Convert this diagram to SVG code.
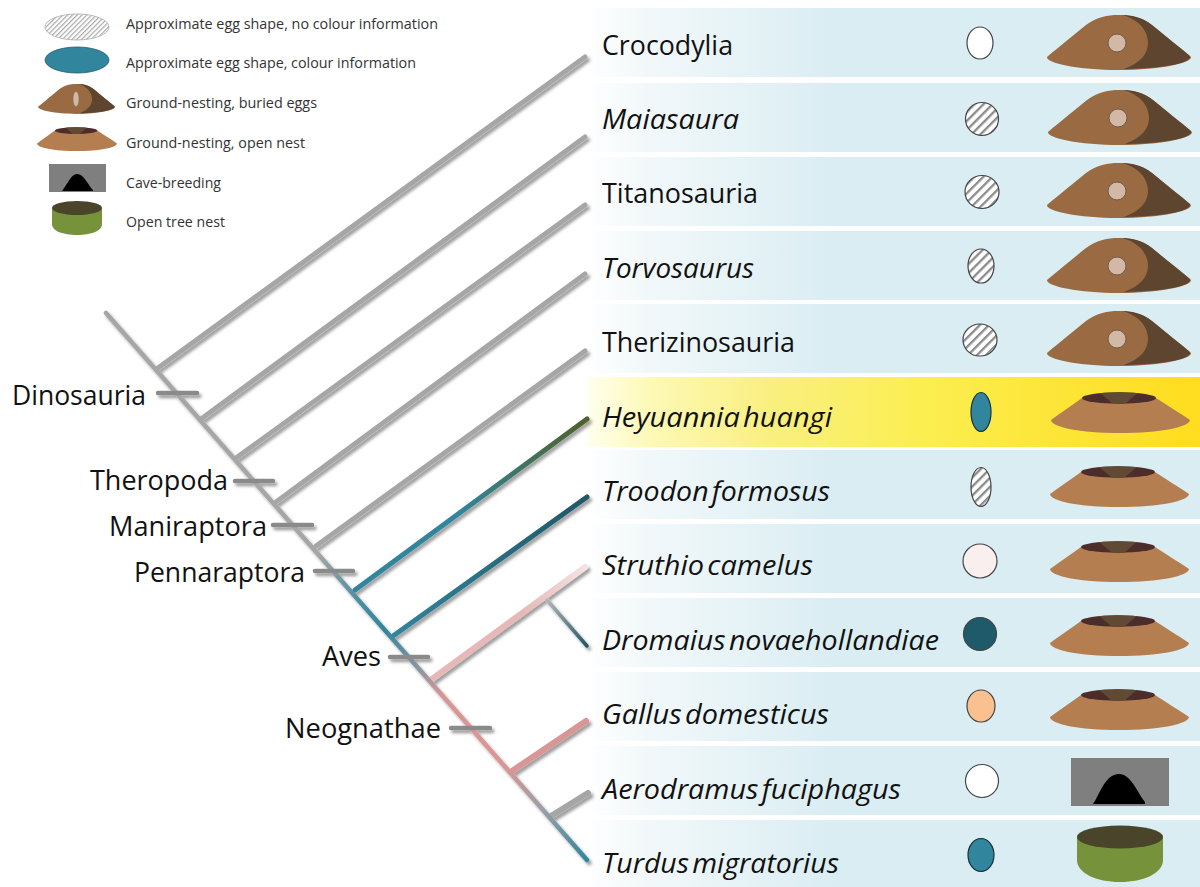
<svg xmlns="http://www.w3.org/2000/svg" width="1200" height="887" viewBox="0 0 1200 887">
<style>
text{font-family:"Open Sans","Noto Sans","Liberation Sans",sans-serif;fill:#111}
.row{fill:url(#rowBlue)}
.lab{font-size:27px}
.it{font-style:italic;word-spacing:-4px}
.leg{font-size:14px;fill:#333}
.clade{font-size:27px}
.br{fill:none;stroke-width:5;stroke-linecap:round}
.gray{stroke:#a6a6a6}
.tick{fill:none;stroke:#8a8a8a;stroke-width:4.500;stroke-linecap:round}
.egg{stroke:#444;stroke-width:1.2}
.hatch{fill:url(#hatch)}
.teal{fill:#31859c;stroke:#17313a;stroke-width:1.2}
</style>
<defs>
<linearGradient id="rowBlue" x1="0" x2="1" y1="0" y2="0"><stop offset="0" stop-color="#fff"/><stop offset=".1" stop-color="#f2f8fa"/><stop offset=".4" stop-color="#daedf3"/><stop offset="1" stop-color="#daedf3"/></linearGradient>
<linearGradient id="rowYellow" x1="0" x2="1" y1="0" y2="0"><stop offset="0" stop-color="#fffff0"/><stop offset=".1" stop-color="#fdf9b8"/><stop offset=".3" stop-color="#f9ef80"/><stop offset=".55" stop-color="#fbee50"/><stop offset="1" stop-color="#ffdc1e"/></linearGradient>
<pattern id="hatch" width="6.400" height="6.400" patternUnits="userSpaceOnUse" patternTransform="rotate(-45)"><rect width="6.400" height="6.400" fill="#fff"/><rect width="6.400" height="2.300" fill="#8c8c8c"/></pattern>
<pattern id="hatchFine" width="3.400" height="3.400" patternUnits="userSpaceOnUse" patternTransform="rotate(-45)"><rect width="3.400" height="3.400" fill="#fff"/><rect width="3.400" height="1.200" fill="#aaa"/></pattern>
<clipPath id="holeClip"><ellipse cx="1119" cy="398" rx="37" ry="5.800"/></clipPath>
<filter id="sh" x="-10%" y="-10%" width="120%" height="120%"><feDropShadow dx="2.400" dy="3" stdDeviation="1.500" flood-color="#000" flood-opacity=".38"/></filter>
<linearGradient id="gMain" gradientUnits="userSpaceOnUse" x1="106" y1="313" x2="587" y2="860">
<stop offset="0" stop-color="#a6a6a6"/><stop offset=".44" stop-color="#a6a6a6"/><stop offset=".52" stop-color="#4f8fa3"/><stop offset=".58" stop-color="#31859c"/><stop offset=".65" stop-color="#8c95a2"/><stop offset=".7" stop-color="#d99694"/><stop offset=".83" stop-color="#d99694"/><stop offset=".91" stop-color="#9a9fa5"/><stop offset="1" stop-color="#31859c"/></linearGradient>
<linearGradient id="gHey" gradientUnits="userSpaceOnUse" x1="355" y1="590" x2="587" y2="419"><stop offset="0" stop-color="#31859c"/><stop offset=".45" stop-color="#31859c"/><stop offset="1" stop-color="#4f6228"/></linearGradient>
<linearGradient id="gTro" gradientUnits="userSpaceOnUse" x1="393" y1="636" x2="587" y2="497"><stop offset="0" stop-color="#31859c"/><stop offset="1" stop-color="#205867"/></linearGradient>
<linearGradient id="gStr" gradientUnits="userSpaceOnUse" x1="432" y1="679" x2="585" y2="567"><stop offset="0" stop-color="#e6b9b8"/><stop offset=".6" stop-color="#e6b9b8"/><stop offset="1" stop-color="#f5e3e2"/></linearGradient>
<linearGradient id="gDro" gradientUnits="userSpaceOnUse" x1="547" y1="600" x2="587" y2="646"><stop offset="0" stop-color="#b5b5b5"/><stop offset="1" stop-color="#205867"/></linearGradient>
<g id="buriedBase">
<path d="M1047 57C1060 46 1075 34 1086 25C1097 17 1108 15 1118 15C1130 15 1142 17 1152 25C1165 36 1180 47 1191 57C1192 63 1160 70 1119 70C1078 70 1046 63 1047 57Z" fill="#9a6a42"/>
<path d="M1122 15C1130 15 1142 17 1152 25C1165 36 1178 46 1190 56C1192 62 1170 68 1124 69C1140 63 1148 54 1148 43C1148 30 1138 19 1122 15Z" fill="#5e452f"/>
</g>
<g id="buried">
<use href="#buriedBase"/>
<circle cx="1117" cy="43" r="9" fill="#d2b8a5" stroke="#6e5c4e" stroke-width="1"/>
</g>
<g id="open">
<path d="M1082 398L1156 398C1168 406 1180 413 1190 420C1190 427 1160 433 1120 433C1080 433 1051 427 1051 420C1061 413 1072 405 1082 398Z" fill="#b47e50"/>
<ellipse cx="1119" cy="398" rx="37" ry="5.800" fill="#4d2c2c"/>
<path d="M1098 391L1140 391L1125 404L1113 404Z" fill="#604a33" clip-path="url(#holeClip)"/>
</g>
</defs>
<rect width="1200" height="887" fill="#fff"/>
<g id="rows">
<rect class="row" x="586" y="8" width="614" height="69"/>
<rect class="row" x="586" y="83" width="614" height="69"/>
<rect class="row" x="586" y="157" width="614" height="69"/>
<rect class="row" x="586" y="231" width="614" height="69"/>
<rect class="row" x="586" y="304" width="614" height="69"/>
<rect x="586" y="377" width="614" height="70" fill="url(#rowYellow)"/>
<rect class="row" x="586" y="450" width="614" height="69"/>
<rect class="row" x="586" y="524" width="614" height="69"/>
<rect class="row" x="586" y="598" width="614" height="69"/>
<rect class="row" x="586" y="672" width="614" height="69"/>
<rect class="row" x="586" y="746" width="614" height="69"/>
<rect class="row" x="586" y="820" width="614" height="67"/>
</g>
<g id="connectors" filter="url(#sh)">
<line class="br gray" x1="158" y1="368" x2="585" y2="57"/>
<line class="br gray" x1="201" y1="419" x2="585" y2="137"/>
<line class="br gray" x1="236" y1="458" x2="585" y2="205"/>
<line class="br gray" x1="276" y1="502" x2="585" y2="274"/>
<line class="br gray" x1="316" y1="546" x2="585" y2="351"/>
<line class="br" stroke="url(#gHey)" x1="355" y1="590" x2="587" y2="419"/>
<line class="br" stroke="url(#gTro)" x1="393" y1="636" x2="587" y2="497"/>
<line class="br" stroke="url(#gStr)" style="stroke-width:6" x1="432" y1="679" x2="585" y2="567"/>
<line class="br" stroke="url(#gDro)" style="stroke-width:3.500" x1="547" y1="600" x2="587" y2="646"/>
<line class="br" stroke="#d99694" style="stroke-width:6" x1="512" y1="771" x2="586" y2="721"/>
<line class="br gray" style="stroke-width:6" x1="551" y1="816" x2="588" y2="793"/>
<line class="br" stroke="url(#gMain)" style="stroke-width:4.500" x1="106" y1="313" x2="587" y2="860"/>
<line class="tick" x1="158" y1="393" x2="197" y2="393"/>
<line class="tick" x1="235" y1="481" x2="273" y2="481"/>
<line class="tick" x1="273" y1="525" x2="312" y2="525"/>
<line class="tick" x1="315" y1="571" x2="353" y2="571"/>
<line class="tick" x1="390" y1="657" x2="428" y2="657"/>
<line class="tick" x1="451" y1="728" x2="490" y2="728"/>
</g>
<g id="clades">
<text class="clade" x="12" y="405" textLength="134" lengthAdjust="spacingAndGlyphs">Dinosauria</text>
<text class="clade" x="90" y="490" textLength="138" lengthAdjust="spacingAndGlyphs">Theropoda</text>
<text class="clade" x="109" y="536" textLength="158" lengthAdjust="spacingAndGlyphs">Maniraptora</text>
<text class="clade" x="134" y="582" textLength="171" lengthAdjust="spacingAndGlyphs">Pennaraptora</text>
<text class="clade" x="322" y="666" textLength="59" lengthAdjust="spacingAndGlyphs">Aves</text>
<text class="clade" x="285" y="738" textLength="156" lengthAdjust="spacingAndGlyphs">Neognathae</text>
</g>
<g id="taxon-crocodylia"><text class="lab" x="602" y="55" textLength="131" lengthAdjust="spacingAndGlyphs">Crocodylia</text><ellipse class="egg" cx="980" cy="43" rx="13" ry="16" fill="#fff"/><use href="#buried"/></g>
<g id="taxon-maiasaura"><text class="lab it" x="602" y="129" textLength="137" lengthAdjust="spacingAndGlyphs">Maiasaura</text><ellipse class="egg hatch" cx="982" cy="119" rx="16.500" ry="16.500"/><use href="#buried" x="1" y="75"/></g>
<g id="taxon-titanosauria"><text class="lab" x="602" y="203" textLength="156" lengthAdjust="spacingAndGlyphs">Titanosauria</text><ellipse class="egg hatch" cx="982" cy="192" rx="17" ry="16.500"/><use href="#buried" x="0" y="148"/></g>
<g id="taxon-torvosaurus"><text class="lab it" x="602" y="278" textLength="152" lengthAdjust="spacingAndGlyphs">Torvosaurus</text><ellipse class="egg hatch" cx="981" cy="266" rx="13" ry="17"/><use href="#buried" x="0" y="223"/></g>
<g id="taxon-therizinosauria"><text class="lab" x="602" y="352" textLength="193" lengthAdjust="spacingAndGlyphs">Therizinosauria</text><ellipse class="egg hatch" cx="980" cy="340" rx="17" ry="16"/><use href="#buried" x="0" y="296"/></g>
<g id="taxon-heyuannia"><text class="lab it" x="602" y="427" textLength="230" lengthAdjust="spacingAndGlyphs">Heyuannia huangi</text><ellipse class="teal" cx="981" cy="412" rx="10" ry="19.500"/><use href="#open"/></g>
<g id="taxon-troodon"><text class="lab it" x="602" y="501" textLength="228" lengthAdjust="spacingAndGlyphs">Troodon formosus</text><ellipse class="egg hatch" cx="981" cy="487" rx="10" ry="19.500"/><use href="#open" x="-1" y="74"/></g>
<g id="taxon-struthio"><text class="lab it" x="602" y="575" textLength="211" lengthAdjust="spacingAndGlyphs">Struthio camelus</text><ellipse class="egg" cx="980" cy="561" rx="17" ry="17" fill="#faefef"/><use href="#open" x="-1" y="149"/></g>
<g id="taxon-dromaius"><text class="lab it" x="602" y="650" textLength="337" lengthAdjust="spacingAndGlyphs">Dromaius novaehollandiae</text><ellipse class="egg" cx="980" cy="634" rx="16.500" ry="16.500" fill="#1f5a6b"/><use href="#open" x="-1" y="223"/></g>
<g id="taxon-gallus"><text class="lab it" x="602" y="724" textLength="227" lengthAdjust="spacingAndGlyphs">Gallus domesticus</text><ellipse class="egg" cx="981" cy="706" rx="14" ry="16" fill="#fac090"/><use href="#open" x="-1" y="297"/></g>
<g id="taxon-aerodramus"><text class="lab it" x="602" y="799" textLength="299" lengthAdjust="spacingAndGlyphs">Aerodramus fuciphagus</text><ellipse class="egg" cx="982" cy="781" rx="16.500" ry="16.500" fill="#fff"/>
<rect x="1071" y="758" width="98" height="48" fill="#7f7f7f"/><path d="M1093 804C1099 796 1105 774 1119 774C1131 774 1137 792 1145 802L1145 804Z" fill="#000"/></g>
<g id="taxon-turdus"><text class="lab it" x="602" y="873" textLength="237" lengthAdjust="spacingAndGlyphs">Turdus migratorius</text><ellipse class="teal" cx="981" cy="855" rx="13" ry="16.500"/>
<path d="M1077 837V860C1077 873 1096 882 1120 882C1144 882 1163 873 1163 860V837Z" fill="#76933c"/><ellipse cx="1120" cy="837" rx="43" ry="11.500" fill="#4a452a"/></g>
<g id="legend">
<ellipse cx="77" cy="27" rx="32" ry="13" fill="url(#hatchFine)" stroke="#aaa" stroke-width=".8"/>
<ellipse cx="77" cy="60" rx="32" ry="13" fill="#31859c" stroke="#215a6a" stroke-width=".8"/>
<use href="#buriedBase" transform="translate(-522.100 75.800) scale(.535 .545)"/>
<ellipse cx="76" cy="99" rx="3" ry="7.500" fill="#d2b8a5" stroke="#7a6a5a" stroke-width=".5"/>
<use href="#open" transform="translate(-567.300 -102.300) scale(.575 .585)"/>
<text class="leg" x="126" y="29" textLength="312" lengthAdjust="spacingAndGlyphs">Approximate egg shape, no colour information</text>
<text class="leg" x="126" y="68" textLength="290" lengthAdjust="spacingAndGlyphs">Approximate egg shape, colour information</text>
<text class="leg" x="126" y="108" textLength="191" lengthAdjust="spacingAndGlyphs">Ground-nesting, buried eggs</text>
<text class="leg" x="126" y="148" textLength="179" lengthAdjust="spacingAndGlyphs">Ground-nesting, open nest</text>
<text class="leg" x="126" y="188" textLength="95" lengthAdjust="spacingAndGlyphs">Cave-breeding</text>
<text class="leg" x="126" y="227" textLength="99" lengthAdjust="spacingAndGlyphs">Open tree nest</text>
<rect x="49" y="164" width="57" height="28" fill="#7f7f7f"/><path d="M62 191C67 185 71 174 77 174C84 174 88 185 93 190L93 191Z" fill="#000"/>
<path d="M52 208V224C52 231 63 235 77 235C91 235 102 231 102 224V208Z" fill="#76933c"/><ellipse cx="77" cy="208" rx="25" ry="7" fill="#4a452a"/>
</g>
</svg>
